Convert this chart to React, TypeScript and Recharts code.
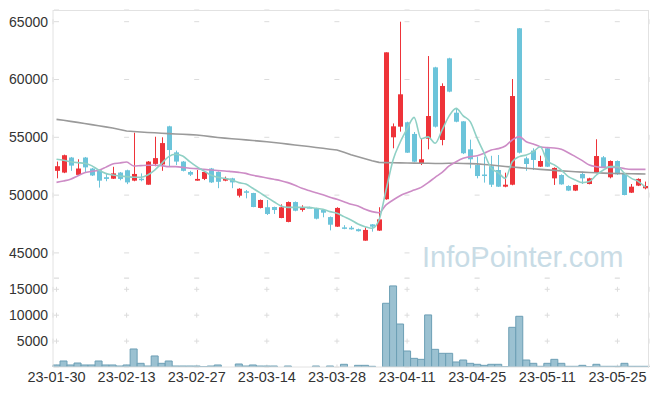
import React from "react";
import { ComposedChart, Bar, Line, XAxis, YAxis, CartesianGrid } from "recharts";

const dates = [
  "23-01-30", "23-01-31", "23-02-01", "23-02-02", "23-02-03", "23-02-06", "23-02-07", "23-02-08", "23-02-09", "23-02-10",
  "23-02-13", "23-02-14", "23-02-15", "23-02-16", "23-02-17", "23-02-20", "23-02-21", "23-02-22", "23-02-23", "23-02-24",
  "23-02-27", "23-02-28", "23-03-02", "23-03-03", "23-03-06", "23-03-07", "23-03-08", "23-03-09", "23-03-10", "23-03-13",
  "23-03-14", "23-03-15", "23-03-16", "23-03-17", "23-03-20", "23-03-21", "23-03-22", "23-03-23", "23-03-24", "23-03-27",
  "23-03-28", "23-03-29", "23-03-30", "23-03-31", "23-04-03", "23-04-04", "23-04-05", "23-04-06", "23-04-07", "23-04-10",
  "23-04-11", "23-04-12", "23-04-13", "23-04-14", "23-04-17", "23-04-18", "23-04-19", "23-04-20", "23-04-21", "23-04-24",
  "23-04-25", "23-04-26", "23-04-27", "23-04-28", "23-05-02", "23-05-03", "23-05-04", "23-05-08", "23-05-09", "23-05-10",
  "23-05-11", "23-05-12", "23-05-15", "23-05-16", "23-05-17", "23-05-18", "23-05-19", "23-05-22", "23-05-23", "23-05-24",
  "23-05-25", "23-05-26", "23-05-30", "23-05-31", "23-06-01",
]

const opens = [
  52100, 51950, 53250, 51750, 53250, 52300, 52150, 51550, 51420, 51950,
  52150, 51250, 51420, 50900, 52700, 52650, 55950, 53700, 52900, 52000,
  51250, 51400, 52300, 52000, 51250, 51450, 49950, 50330, 50180, 48890,
  48950, 48970, 48020, 47680, 49400, 48720, 48960, 48860, 48710, 48100,
  47270, 47210, 47180, 47050, 46060, 47470, 46930, 49640, 55000, 55920,
  56300, 55290, 52700, 54880, 61050, 54770, 61830, 57130, 56380, 53960,
  52600, 51780, 52500, 52170, 50730, 50900, 64430, 53180, 53850, 52460,
  54050, 51450, 51740, 50790, 50390, 51830, 50960, 51940, 53270, 51540,
  52950, 51830, 50210, 50820, 50590,
]
const highs = [
  52900, 53500, 53300, 53100, 53300, 52350, 52200, 51900, 52450, 52000,
  52200, 55400, 51880, 52950, 55050, 55000, 56000, 53850, 52950, 52100,
  52170, 52050, 52350, 52050, 51600, 51500, 50600, 50440, 50200, 49620,
  49580, 49000, 49200, 49450, 49450, 49120, 49000, 48900, 48750, 48150,
  48950, 47400, 47330, 47100, 47210, 47500, 48950, 62350, 56200, 65000,
  56350, 55460, 54910, 62030, 61100, 59670, 61880, 57500, 56400, 54800,
  53330, 53330, 53400, 53470, 51940, 60040, 64450, 53330, 54050, 53410,
  54100, 52400, 51800, 50850, 50900, 52030, 51500, 54830, 53380, 53000,
  53000, 51880, 50960, 51450, 51170,
]
const lows = [
  51450, 51900, 52100, 51700, 52000, 51650, 50650, 51200, 51400, 51280,
  50950, 51200, 51200, 50900, 52500, 52100, 52450, 52600, 52050, 51650,
  51250, 51300, 51050, 50600, 51200, 50600, 49800, 49720, 48950, 48850,
  48280, 48370, 48000, 47650, 48600, 48570, 48880, 47900, 48080, 46950,
  47250, 47050, 47010, 46850, 46050, 46840, 46900, 49600, 54050, 55490,
  53650, 52850, 52600, 53960, 55850, 54310, 58900, 56300, 53550, 52320,
  51450, 51080, 50700, 50700, 50680, 50850, 53600, 52100, 52170, 52430,
  52430, 50880, 50900, 50350, 50350, 50960, 50930, 51900, 52350, 51450,
  51750, 49980, 50180, 50780, 50500,
]
const closes = [
  52500, 53450, 52550, 52300, 52400, 51700, 51250, 51400, 51880, 51400,
  51100, 51830, 51300, 52900, 53200, 54500, 53900, 52900, 52100, 51770,
  51400, 52000, 51100, 51150, 51450, 51100, 50550, 50270, 48970, 49580,
  48370, 48710, 48950, 49400, 48650, 48940, 48920, 47960, 48480, 47440,
  48890, 47100, 47040, 46880, 46990, 47270, 47900, 62350, 55950, 58720,
  53670, 52890, 53100, 56840, 55920, 59440, 58950, 56350, 53620, 53100,
  51650, 51700, 50900, 50730, 50900, 58570, 53670, 52690, 53040, 52950,
  52460, 52350, 50930, 50390, 50880, 51450, 51450, 53380, 52400, 52950,
  51800, 50010, 50730, 51400, 50790,
]
const volumes = [
  390, 1160, 390, 770, 390, 390, 1160, 390, 390, 190,
  390, 3480, 710, 190, 2130, 710, 1160, 190, 190, 190,
  190, 60, 190, 390, 0, 0, 580, 190, 390, 190,
  190, 190, 0, 190, 0, 0, 0, 190, 0, 190,
  0, 520, 0, 320, 320, 130, 0, 12300, 15650, 8300,
  3090, 1670, 1480, 10050, 3410, 2640, 2640, 970, 1350, 710,
  520, 320, 520, 520, 60, 7660, 9790, 1350, 710, 130,
  710, 1480, 710, 130, 130, 320, 60, 520, 130, 130,
  130, 710, 130, 130, 130,
]
const ma5 = [
  53100, 53010, 52890, 52810, 52750, 52550, 52170, 51880, 51740, 51650,
  51600, 51540, 51540, 51740, 52170, 52750, 53330, 53530, 53380, 52890,
  52460, 52100, 51740, 51540, 51450, 51310, 51080, 50960, 50590, 50210,
  49810, 49430, 49060, 48940, 48940, 48940, 48940, 48860, 48770, 48570,
  48430, 48140, 47850, 47500, 47270, 47130, 47850, 50440, 53040, 54550,
  55720, 56720, 54870, 55040, 54480, 55640, 56850, 57500, 56860, 56350,
  54910, 53620, 52320, 51950, 51450, 52890, 53330, 53470, 53760, 54180,
  52960, 52610, 52170, 51600, 51310, 51080, 51170, 51740, 52170, 52460,
  52460, 51890, 51450, 51170, 50680,
]
const ma20 = [
  51100, 51220, 51370, 51650, 51940, 52050, 52150, 52400, 52690, 52780,
  52860, 52520, 52550, 52580, 52580, 52550, 52460, 52460, 52400, 52320,
  52290, 52230, 52170, 52120, 52090, 52030, 51970, 51880, 51710, 51600,
  51480, 51370, 51250, 51080, 50850, 50590, 50390, 50210, 50040, 49810,
  49640, 49430, 49200, 49060, 48770, 48570, 48480, 49150, 49580, 49950,
  50210, 50440, 50670, 51080, 51540, 51970, 52520, 52890, 53180, 53330,
  53410, 53620, 53900, 54020, 54250, 54770, 55060, 54620, 54420, 54190,
  54110, 54080, 53960, 53670, 53330, 52980, 52610, 52460, 52400, 52400,
  52400, 52290, 52230, 52230, 52230,
]
const ma60 = [
  56550, 56470, 56380, 56290, 56200, 56100, 56000, 55900, 55800, 55680,
  55550, 55500, 55460, 55420, 55390, 55350, 55320, 55290, 55260, 55230,
  55200, 55130, 55060, 54990, 54930, 54880, 54830, 54780, 54720, 54670,
  54620, 54550, 54480, 54410, 54340, 54270, 54200, 54120, 54050, 53970,
  53900, 53700, 53500, 53320, 53150, 52980, 52830, 52810, 52800, 52790,
  52780, 52770, 52760, 52750, 52740, 52740, 52750, 52750, 52740, 52720,
  52700, 52650, 52600, 52540, 52480, 52430, 52380, 52330, 52280, 52230,
  52180, 52140, 52100, 52060, 52020, 51990, 51960, 51930, 51900, 51880,
  51870, 51860, 51850, 51840, 51830,
]

const priceTicks = [45000, 50000, 55000, 60000, 65000]
const volumeTicks = [5000, 10000, 15000]
const dateTicks = ["23-01-30", "23-02-13", "23-02-27", "23-03-14", "23-03-28", "23-04-11", "23-04-25", "23-05-11", "23-05-25"]

const rows = dates.map((date, i) => ({
  date,
  open: opens[i],
  high: highs[i],
  low: lows[i],
  close: closes[i],
  range: [lows[i], highs[i]],
  volume: volumes[i],
  ma5: ma5[i],
  ma20: ma20[i],
  ma60: ma60[i],
}))

const UP = "#ee3339"
const DOWN = "#6cc4da"
const GRID = "#dcdcdc"
const FRAME = "#e2e2e2"
const FONT = "'Liberation Sans', Arial, sans-serif"

function Candle(props: any) {
  const { x, y, width, height, payload } = props
  const { open, close, high, low } = payload
  const top = Math.min(y, y + height)
  const span = Math.abs(height)
  const toY = (v: number) => (high === low ? top : top + ((high - v) / (high - low)) * span)
  const color = close >= open ? UP : DOWN
  const bodyTop = toY(Math.max(open, close))
  const bodyBottom = toY(Math.min(open, close))
  const cx = Math.round(x + width / 2) + 0.5
  return (
    <g>
      <line x1={cx} x2={cx} y1={top} y2={top + span} stroke={color} strokeWidth={1} />
      <rect x={cx - 2.5} y={bodyTop} width={5} height={Math.max(1.5, bodyBottom - bodyTop)} fill={color} />
    </g>
  )
}

// small "+" marks at tick crossings, made from dashed grid lines
const crossH = (p: any) => (
  <line key={p.key} x1={p.x1} y1={p.y1} x2={p.x2} y2={p.y2} stroke={GRID} strokeDasharray="5 65.1" strokeDashoffset={69.1} />
)
const crossV = (gap: number, offset: number) => (p: any) => (
  <line key={p.key} x1={p.x1} y1={p.y1} x2={p.x2} y2={p.y2} stroke={GRID} strokeDasharray={`5 ${gap}`} strokeDashoffset={offset} />
)

const tickStyle = { fill: "#333", fontSize: 14, fontFamily: FONT }
const dateTickStyle = { fill: "#333", fontSize: 14.5, fontFamily: FONT }

export default function App() {
  return (
    <div style={{ position: "absolute", left: 0, top: 0, width: 657, height: 396, background: "#fff", overflow: "hidden" }}>
      <div
        style={{
          position: "absolute",
          left: 422,
          top: 237,
          fontFamily: FONT,
          fontSize: 29,
          color: "#c8dce6",
          lineHeight: "40px",
          whiteSpace: "nowrap",
        }}
      >
        InfoPointer.com
      </div>

      <div style={{ position: "absolute", left: 0, top: 0 }}>
        <ComposedChart width={657} height={280} data={rows} margin={{ top: 10, right: 8, bottom: 2, left: 0 }}>
          <CartesianGrid horizontal={crossH} vertical={crossV(52.8, 48.6)} />
          <XAxis
            dataKey="date"
            ticks={dateTicks}
            interval={0}
            height={0}
            tick={false}
            tickLine={false}
            axisLine={{ stroke: FRAME }}
          />
          <YAxis
            domain={[42830, 66012]}
            ticks={priceTicks}
            width={53}
            tickSize={3}
            tickMargin={2}
            tickLine={false}
            axisLine={{ stroke: FRAME }}
            tick={tickStyle}
            allowDataOverflow
          />
          <Line dataKey="ma60" type="linear" stroke="#9a9a9a" strokeWidth={1.6} dot={false} isAnimationActive={false} />
          <Line dataKey="ma20" type="monotone" stroke="#cd8cc6" strokeWidth={1.6} dot={false} isAnimationActive={false} />
          <Line dataKey="ma5" type="monotone" stroke="#8fd0c5" strokeWidth={1.6} dot={false} isAnimationActive={false} />
          <Bar dataKey="range" barSize={5} shape={(p: any) => <Candle {...p} />} isAnimationActive={false} />
        </ComposedChart>
      </div>

      <div style={{ position: "absolute", left: 0, top: 278 }}>
        <ComposedChart width={657} height={118} data={rows} margin={{ top: 0, right: 8, bottom: 0, left: 0 }} barCategoryGap={0}>
          <CartesianGrid horizontal={crossH} vertical={crossV(20.9, 17.1)} />
          <XAxis
            dataKey="date"
            ticks={dateTicks}
            interval={0}
            height={29}
            tickSize={3}
            tickMargin={2}
            tickLine={false}
            axisLine={{ stroke: FRAME }}
            tick={dateTickStyle}
          />
          <YAxis
            domain={[0, 17180]}
            ticks={volumeTicks}
            width={53}
            tickSize={3}
            tickMargin={2}
            tickLine={false}
            axisLine={{ stroke: FRAME }}
            tick={tickStyle}
            allowDataOverflow
          />
          <Bar dataKey="volume" fill="#9bc1d1" stroke="#6c9fb5" strokeWidth={1} isAnimationActive={false} />
        </ComposedChart>
      </div>

      <div
        style={{
          position: "absolute",
          left: 53,
          top: 10,
          width: 595,
          height: 357,
          borderTop: `1px solid ${FRAME}`,
          borderRight: `1px solid ${FRAME}`,
          pointerEvents: "none",
        }}
      />
    </div>
  )
}
